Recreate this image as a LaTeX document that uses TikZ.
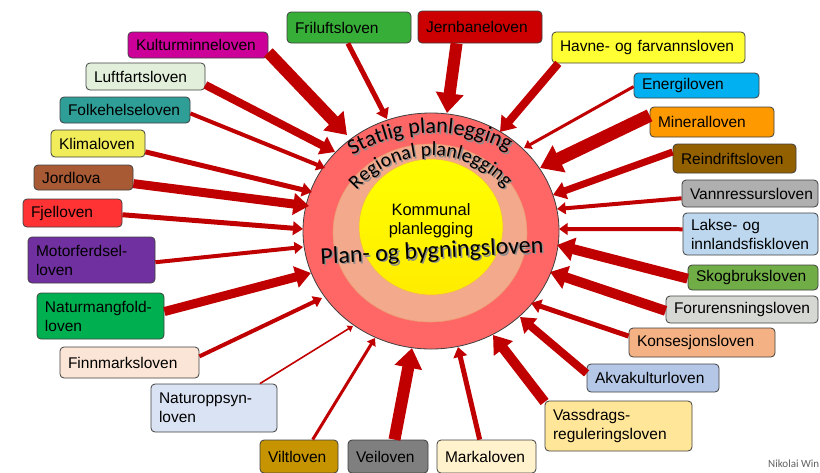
\documentclass[tikz,border=0pt]{standalone}
\usepackage{fontspec}
\setmainfont{Liberation Sans}
\newfontfamily\calfont{Carlito}
\usetikzlibrary{arrows.meta,decorations.text,shapes.geometric}
\definecolor{arrred}{HTML}{C00000}
\definecolor{boxborder}{HTML}{404040}
\definecolor{outerred}{HTML}{FF6666}
\definecolor{salmon}{HTML}{F3AA8C}
\definecolor{salmonedge}{HTML}{EE9A70}
\definecolor{yellowedge}{HTML}{F2B060}
\definecolor{shadowgray}{HTML}{8C8C8C}
\definecolor{nikgray}{HTML}{606060}
\definecolor{cKul}{HTML}{CC0099}
\definecolor{cLuf}{HTML}{E2EFDA}
\definecolor{cFol}{HTML}{2E9E96}
\definecolor{cKli}{HTML}{F0EC5A}
\definecolor{cJor}{HTML}{A85A35}
\definecolor{cFje}{HTML}{FF3333}
\definecolor{cMot}{HTML}{7030A0}
\definecolor{cNam}{HTML}{00B050}
\definecolor{cFin}{HTML}{FBE5D6}
\definecolor{cNop}{HTML}{DAE3F3}
\definecolor{cVil}{HTML}{C59400}
\definecolor{cVei}{HTML}{7F7F7F}
\definecolor{cMar}{HTML}{FFF2CC}
\definecolor{cVas}{HTML}{FFE699}
\definecolor{cAkv}{HTML}{B4C7E7}
\definecolor{cKon}{HTML}{F4B183}
\definecolor{cFor}{HTML}{D6D9D3}
\definecolor{cSko}{HTML}{70AD47}
\definecolor{cLak}{HTML}{BDD7EE}
\definecolor{cVan}{HTML}{AFAFAF}
\definecolor{cRei}{HTML}{936000}
\definecolor{cMin}{HTML}{FF9900}
\definecolor{cEne}{HTML}{00B0F0}
\definecolor{cHav}{HTML}{FFFF33}
\definecolor{cJer}{HTML}{CC0000}
\definecolor{cFri}{HTML}{37AE37}
\newcommand\statfont{\calfont\fontsize{22}{22}\selectfont}
\newcommand\regfont{\calfont\fontsize{20}{20}\selectfont}
\newcommand\lawbox[7]{%
  \pgfmathsetmacro\lbW{#4-#2-16}%
  \pgfmathsetmacro\lbH{#5-#3}%
  \pgfmathsetmacro\lbX{(#2+#4)/2}%
  \pgfmathsetmacro\lbY{(#3+#5)/2}%
  \node[lawbox,fill=#6,text width=\lbW pt,minimum height=\lbH pt] (#1) at (\lbX,\lbY) {#7};}
\tikzset{
  lawbox/.style={draw=boxborder, line width=0.8pt, rounded corners=4pt, inner xsep=8pt, inner ysep=2pt,
    align=left, text=black, font=\fontsize{15.5}{19}\selectfont},
  arr/.style={draw=arrred, line width=#1pt, -{Triangle[length=3pt 1.4, width=4pt 1.9]}},
  ring/.style={ellipse, inner sep=0pt}
}
\begin{document}
\begin{tikzpicture}[x=1pt,y=-1pt]
\useasboundingbox (0,0) rectangle (820,472);
\clip (0,0) rectangle (820,472);

% rings
\node[ring, draw=boxborder, line width=0.8pt, fill=outerred, minimum width=256pt, minimum height=236pt] (outer) at (431,231) {};
\node[ring, draw=salmonedge, line width=0.6pt, fill=salmon, minimum width=194pt, minimum height=178pt] (mid) at (430,233) {};
\node[ring, draw=yellowedge, line width=0.6pt, top color=yellow, bottom color=yellow!85!orange, minimum width=144pt, minimum height=136pt] (inner) at (431,227) {};

% curved texts with shadow
\path[decorate, decoration={text along path, text align=center, text={|\statfont\color{shadowgray}|Statlig planlegging}}]
  plot[domain=-123.5:-59.5, samples=80] ({435.5+159*cos(\x)},{293.5+159*sin(\x)});
\path[decorate, decoration={text along path, text align=center, text={|\statfont|Statlig planlegging}}]
  plot[domain=-123.5:-59.5, samples=80] ({434+159*cos(\x)},{292+159*sin(\x)});
\path[decorate, decoration={text along path, text align=center, text={|\regfont\color{shadowgray}|Regional planlegging}}]
  plot[domain=-146:-36, samples=90] ({433.5+100*cos(\x)},{257.5+100*sin(\x)});
\path[decorate, decoration={text along path, text align=center, text={|\regfont|Regional planlegging}}]
  plot[domain=-146:-36, samples=90] ({432+100*cos(\x)},{256+100*sin(\x)});

\node[align=center, font=\fontsize{16.5}{19}\selectfont] (kommunal) at (431,221) {Kommunal\\planlegging};
\node[font=\calfont\fontsize{24}{24}\selectfont, text=shadowgray, rotate=3] (pbshadow) at (433.5,253.5) {Plan- og bygningsloven};
\node[font=\calfont\fontsize{24}{24}\selectfont, rotate=3] (pbl) at (432,252) {Plan- og bygningsloven};

% boxes
\lawbox{kul}{128}{32}{268}{58}{cKul}{Kulturminneloven}
\lawbox{luf}{86}{63}{205}{90}{cLuf}{Luftfartsloven}
\lawbox{fol}{60}{97}{190}{123}{cFol}{Folkehelseloven}
\lawbox{kli}{51}{130}{145}{157}{cKli}{Klimaloven}
\lawbox{jor}{34}{165}{133}{190}{cJor}{Jordlova}
\lawbox{fje}{23}{199}{122}{227}{cFje}{Fjelloven}
\lawbox{mot}{28}{237}{155}{283}{cMot}{Motorferdsel-\\loven}
\lawbox{nam}{37}{293}{164}{339}{cNam}{Naturmangfold-\\loven}
\lawbox{fin}{60}{347}{199}{378}{cFin}{Finnmarksloven}
\lawbox{nop}{151}{384}{277}{432}{cNop}{Naturoppsyn-\\loven}
\lawbox{vil}{260}{440}{338}{473}{cVil}{Viltloven}
\lawbox{vei}{348}{440}{428}{473}{cVei}{Veiloven}
\lawbox{mar}{437}{440}{536}{473}{cMar}{Markaloven}
\lawbox{vas}{545}{401}{692}{451}{cVas}{Vassdrags-\\reguleringsloven}
\lawbox{akv}{587}{364}{719}{392}{cAkv}{Akvakulturloven}
\lawbox{kon}{629}{328}{775}{357}{cKon}{Konsesjonsloven}
\lawbox{foru}{666}{296}{818}{323}{cFor}{Forurensningsloven}
\lawbox{sko}{688}{265}{818}{290}{cSko}{Skogbruksloven}
\lawbox{lak}{683}{213}{818}{255}{cLak}{Lakse- og\\innlandsfiskloven}
\lawbox{van}{682}{180}{818}{207}{cVan}{Vannressursloven}
\lawbox{rei}{673}{144}{796}{173}{cRei}{Reindriftsloven}
\lawbox{min}{650}{107}{774}{137}{cMin}{Mineralloven}
\lawbox{ene}{634}{73}{759}{98}{cEne}{Energiloven}
\lawbox{hav}{552}{32}{745}{63}{cHav}{Havne- og farvannsloven}
\lawbox{jer}{418}{11}{542}{43}{cJer}{Jernbaneloven}
\lawbox{fri}{287}{12}{411}{43}{cFri}{Friluftsloven}

% arrow tips at the ring
\coordinate (tKul) at (347,135);
\coordinate (tLuf) at (335,152);
\coordinate (tFol) at (325,168);
\coordinate (tKli) at (312,192);
\coordinate (tJor) at (309,206);
\coordinate (tFje) at (303,229);
\coordinate (tMot) at (303,247);
\coordinate (tNam) at (311,273);
\coordinate (tFin) at (322,298);
\coordinate (tNop) at (353,326);
\coordinate (tVil) at (375,338);
\coordinate (tVei) at (412,348);
\coordinate (tMar) at (458,347);
\coordinate (tVas) at (493,335);
\coordinate (tAkv) at (520,317);
\coordinate (tKon) at (531,303);
\coordinate (tFor) at (550,272);
\coordinate (tSko) at (557,245);
\coordinate (tLak) at (559,229);
\coordinate (tVan) at (557,209);
\coordinate (tRei) at (553,195);
\coordinate (tMin) at (540,168);
\coordinate (tEne) at (524,148);
\coordinate (tHav) at (500,132);
\coordinate (tJer) at (447,113);
\coordinate (tFri) at (387,119);

\draw[arr=12] (kul.-6) -- (tKul);
\draw[arr=8] (luf.-8) -- (tLuf);
\draw[arr=4] (fol.-3) -- (tFol);
\draw[arr=5] (kli.-10) -- (tKli);
\draw[arr=9] (jor.-7) -- (tJor);
\draw[arr=5] (fje.-2) -- (tFje);
\draw[arr=4] (mot.-2) -- (tMot);
\draw[arr=9] (nam.4) -- (tNam);
\draw[arr=4] (fin.5) -- (tFin);
\draw[arr=1.6] (nop.28) -- (tNop);
\draw[arr=3] (vil.51) -- (tVil);
\draw[arr=12] (vei.69) -- (tVei);
\draw[arr=5] (mar.112) -- (tMar);
\draw[arr=10] (vas.162) -- (tVas);
\draw[arr=8] (akv.176) -- (tAkv);
\draw[arr=5] (kon.175) -- (tKon);
\draw[arr=10] (foru.181) -- (tFor);
\draw[arr=10] (sko.181) -- (tSko);
\draw[arr=4] (lak.176) -- (tLak);
\draw[arr=4] (van.184) -- (tVan);
\draw[arr=7] (rei.174) -- (tRei);
\draw[arr=13] (min.174) -- (tMin);
\draw[arr=3] (ene.181) -- (tEne);
\draw[arr=8] (hav.190) -- (tHav);
\draw[arr=12] (jer.215) -- (tJer);
\draw[arr=5] (fri.266) -- (tFri);

\node[anchor=base west, inner sep=0pt, text=nikgray, font=\calfont\fontsize{11}{11}\selectfont] (credit) at (768,467) {Nikolai Win};
\end{tikzpicture}
\end{document}
